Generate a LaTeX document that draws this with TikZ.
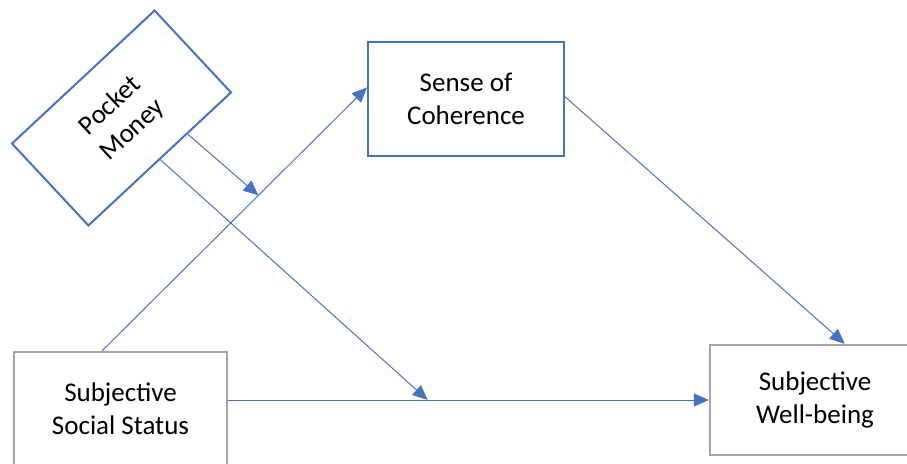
\documentclass[tikz,border=0pt]{standalone}
\usepackage{fontspec}
\setmainfont{Carlito}
\usetikzlibrary{arrows.meta,calc}
\definecolor{boxblue}{HTML}{4472C4}
\definecolor{boxgray}{HTML}{A5A5A5}
\tikzset{
  bluebox/.style={draw=boxblue, line width=2pt, align=center, inner sep=0pt},
  graybox/.style={draw=boxgray, line width=2.5pt, align=center, inner sep=0pt},
  conn/.style={draw=boxblue, line width=1pt, -{Triangle[length=15pt,width=13pt]}},
  lbl/.style={font=\fontsize{27}{33}\selectfont}
}
\begin{document}
\begin{tikzpicture}[x=1pt,y=-1pt]
\useasboundingbox (0,0) rectangle (907,463);
\clip (0,0) rectangle (907,463);
\node[bluebox, lbl, minimum width=195pt, minimum height=112pt, rotate=43] (pm) at (121.5,118) {Pocket\\Money};
\node[bluebox, lbl, minimum width=196pt, minimum height=114pt] (soc) at (466,99) {Sense of\\Coherence};
\node[graybox, lbl, minimum width=213pt, minimum height=114pt] (sss) at (120.5,409) {Subjective\\Social Status};
\node[graybox, lbl, minimum width=210pt, minimum height=110pt] (swb) at (815,400) {Subjective\\Well-being};
\coordinate (a1) at ($(sss.north west)!0.415!(sss.north east)$);
\coordinate (b1) at ($(soc.north west)!0.40!(soc.south west)$);
\coordinate (a2) at ($(soc.north east)!0.48!(soc.south east)$);
\coordinate (b2) at ($(swb.north west)!0.64!(swb.north east)$);
\draw[conn] (a1) -- (b1);
\draw[conn] (a2) -- (b2);
\draw[conn] (sss.east |- swb.west) -- (swb.west);
\coordinate (m1) at ($(a1)!0.59!(b1)$);
\coordinate (m2) at ($(sss.east |- swb.west)!0.415!(swb.west)$);
\coordinate (p1) at ($(pm.south east)!0.31!(pm.south west)$);
\coordinate (p2) at ($(pm.south east)!0.5!(pm.south west)$);
\draw[conn] (p1) -- (m1);
\draw[conn] (p2) -- (m2);
\end{tikzpicture}
\end{document}
